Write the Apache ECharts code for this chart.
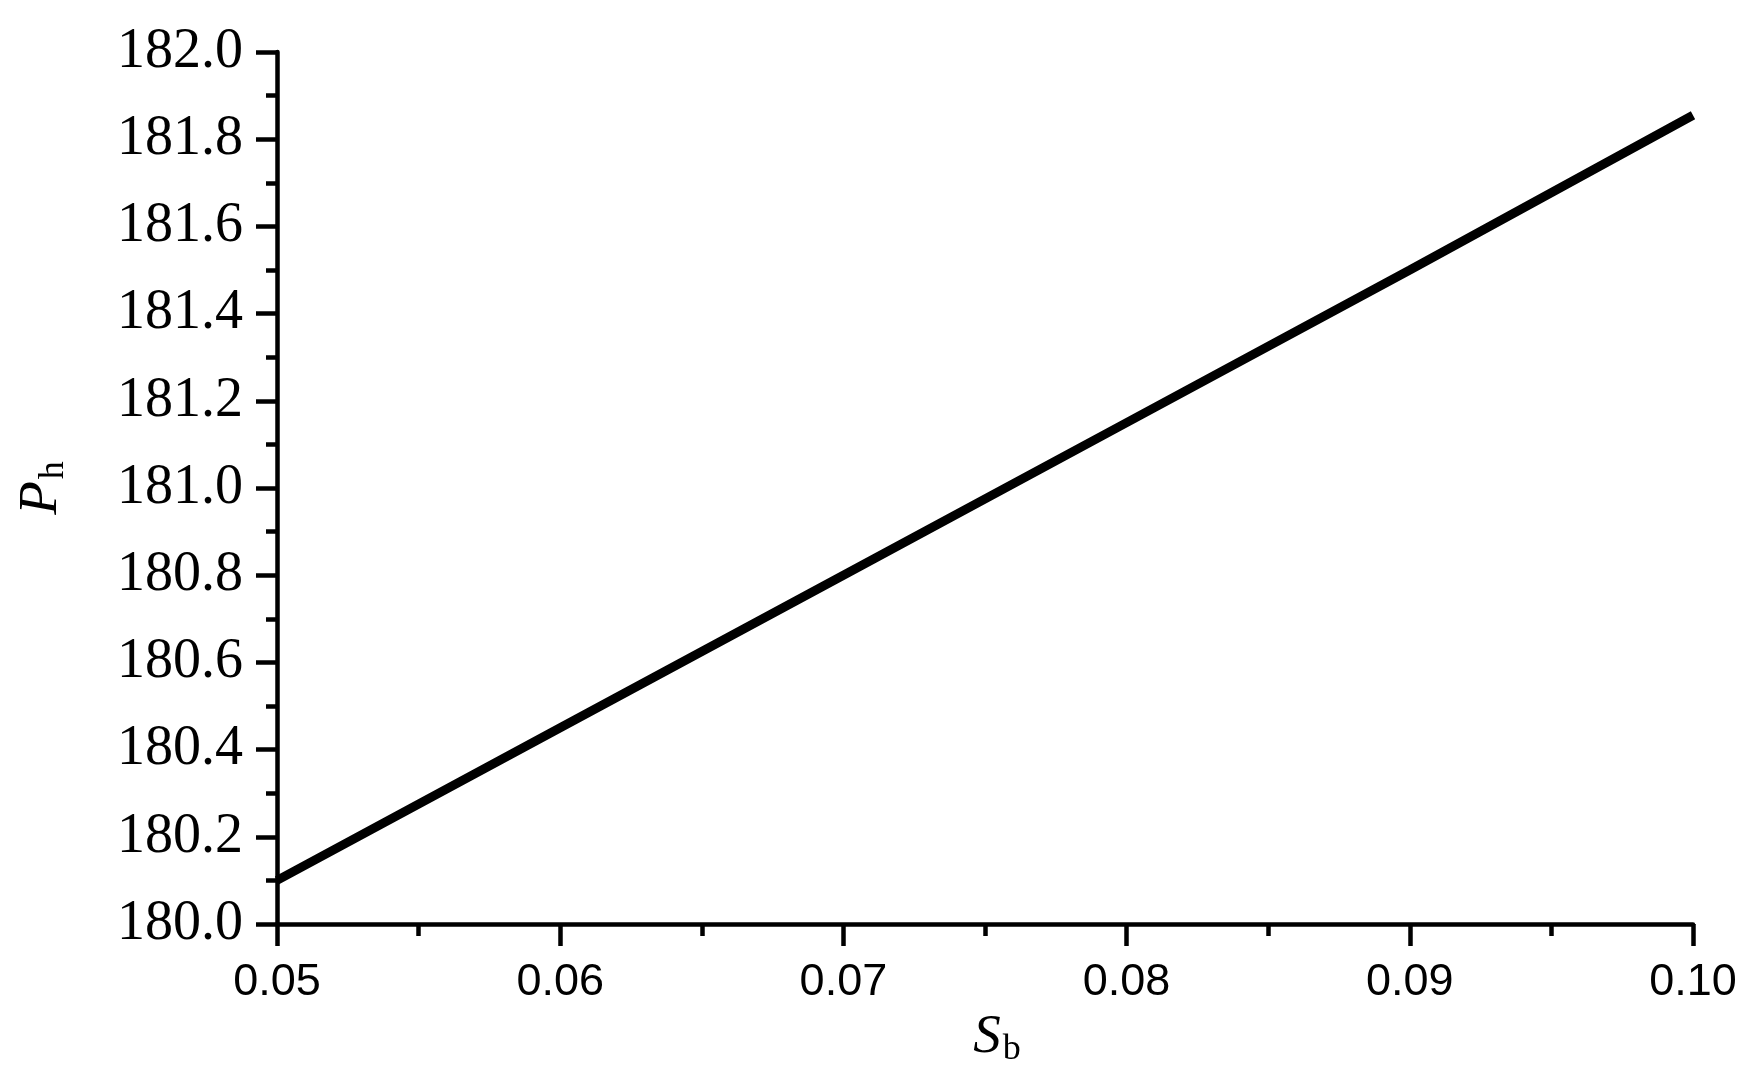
<!DOCTYPE html>
<html>
<head>
<meta charset="utf-8">
<script src="https://cdn.jsdelivr.net/npm/echarts@6/dist/echarts.min.js"></script>
<style>
  html, body { margin: 0; padding: 0; background: #fff; }
  #chart { width: 1760px; height: 1091px; }
</style>
</head>
<body>
<div id="chart"></div>
<script>
// S_b values and matching P_h values
var sbValues = [0.05, 0.06, 0.07, 0.08, 0.09, 0.10];
var phValues = [180.10, 180.45, 180.80, 181.15, 181.50, 181.855];

var serif = "'Liberation Serif', 'Times New Roman', Times, serif";
var sans = "'Liberation Sans', Arial, Helvetica, sans-serif";

var chart = echarts.init(document.getElementById("chart"));

var axisStyle = { color: "#000", width: 4.5 };

var option = {
  animation: false,
  backgroundColor: "#fff",
  grid: { left: 277, top: 52, right: 67, bottom: 167 },
  xAxis: {
    type: "value",
    min: 0.05,
    max: 0.10,
    interval: 0.01,
    name: "{i|S}{s|b}",
    nameLocation: "middle",
    nameGap: 82,
    nameTextStyle: {
      padding: [0, 0, 0, 24],
      rich: {
        i: { fontFamily: serif, fontStyle: "italic", fontSize: 55, color: "#000" },
        s: { fontFamily: serif, fontSize: 36, color: "#000", padding: [24, 0, 0, 2] }
      }
    },
    axisLine: { show: true, lineStyle: axisStyle },
    axisTick: { show: true, inside: false, length: 22, lineStyle: axisStyle },
    minorTick: { show: true, splitNumber: 2, length: 12, lineStyle: axisStyle },
    splitLine: { show: false },
    axisLabel: {
      margin: 36,
      fontFamily: sans,
      fontSize: 45,
      color: "#000",
      formatter: function (v) { return v.toFixed(2); }
    }
  },
  yAxis: {
    type: "value",
    min: 180,
    max: 182,
    interval: 0.2,
    name: "{i|P}{s|h}",
    nameLocation: "middle",
    nameGap: 205,
    nameRotate: 90,
    nameTextStyle: {
      rich: {
        i: { fontFamily: serif, fontStyle: "italic", fontSize: 55, color: "#000" },
        s: { fontFamily: serif, fontSize: 36, color: "#000", padding: [24, 0, 0, 2] }
      }
    },
    axisLine: { show: true, lineStyle: axisStyle },
    axisTick: { show: true, inside: false, length: 21, lineStyle: axisStyle },
    minorTick: { show: true, splitNumber: 2, length: 11, lineStyle: axisStyle },
    splitLine: { show: false },
    axisLabel: {
      margin: 34,
      fontFamily: serif,
      fontSize: 56,
      color: "#000",
      formatter: function (v) { return v.toFixed(1); }
    }
  },
  series: [
    {
      type: "line",
      data: sbValues.map(function (x, i) { return [x, phValues[i]]; }),
      showSymbol: false,
      lineStyle: { color: "#000", width: 9 }
    }
  ]
};

chart.setOption(option);
</script>
</body>
</html>
